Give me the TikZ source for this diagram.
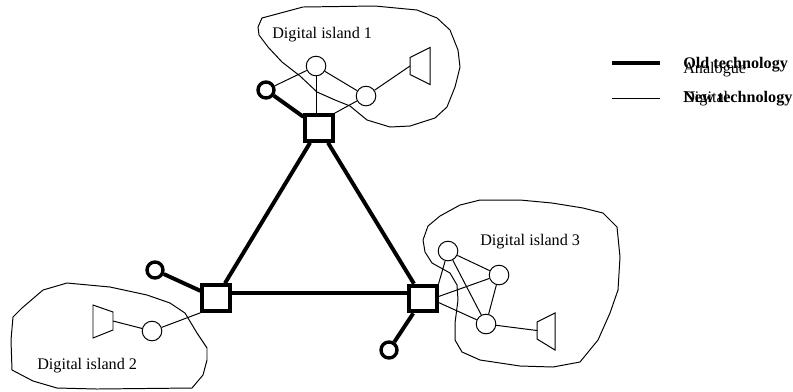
\documentclass[tikz,border=0pt]{standalone}
\usepackage{fontspec}
\setmainfont{Liberation Serif}
\usepackage{tikz}

\tikzset{
  router/.style={draw, line width=2.8pt, minimum width=0.68cm, minimum height=0.64cm, inner sep=0pt},
  phone/.style={draw, circle, line width=2.4pt, minimum size=0.4cm, inner sep=0pt},
  station/.style={draw, circle, line width=0.7pt, minimum size=0.49cm, inner sep=0pt},
  trunk/.style={line width=2.8pt},
  link/.style={line width=0.7pt},
  island/.style={line width=0.7pt, line join=round},
  islandtext/.style={anchor=base west, inner sep=0pt, font=\fontsize{11.5}{13}\selectfont}
}

\begin{document}
\begin{tikzpicture}[x=0.025cm, y=-0.025cm]
    \useasboundingbox (0,0) rectangle (793,391);
    % outlines of the three islands
    \draw[island] (262,18) -- (303,7) -- (375,6) -- (417,10) -- (437,18) -- (450,30) -- (458,50)
      -- (460,67) -- (455,87) -- (447,107) -- (435,118) -- (410,126) -- (390,127) -- (367,120)
      -- (350,106) -- (335,100) -- (317,92) -- (300,76) -- (282,62) -- (268,47) -- (259,35)
      -- (258,27) -- cycle;
    \draw[island] (43,290) -- (67,283) -- (110,287) -- (147,295) -- (170,303) -- (185,313)
      -- (197,333) -- (207,348) -- (207,360) -- (203,375) -- (192,388) -- (97,389) -- (57,388)
      -- (33,381) -- (12,370) -- (11,340) -- (13,317) -- (22,308) -- cycle;
    \draw[island] (423,240) -- (428,226) -- (440,216) -- (460,205) -- (480,200) -- (520,200)
      -- (552,203) -- (583,208) -- (603,213) -- (617,227) -- (620,257) -- (618,290) -- (610,313)
      -- (598,340) -- (580,362) -- (553,367) -- (520,366) -- (480,360) -- (462,352) -- (455,340)
      -- (455,323) -- (458,300) -- (457,285) -- (450,273) -- (432,263) -- (425,252) -- cycle;
    \node[islandtext] (name1) at (272,38) {Digital island 1};
    \node[islandtext] (name2) at (37,369) {Digital island 2};
    \node[islandtext] (name3) at (480,245) {Digital island 3};
    % exchanges and old phones
    \node[router] (r1) at (319,128) {};
    \node[router] (r2) at (216,298) {};
    \node[router] (r3) at (423,298.5) {};
    \node[phone] (p1) at (266,90) {};
    \node[phone] (p2) at (155,270) {};
    \node[phone] (p3) at (389,350) {};
    % digital stations
    \node[station] (s1a) at (316,66) {};
    \node[station] (s1b) at (366,96) {};
    \node[station] (s2) at (152,331) {};
    \node[station] (s3a) at (448,251) {};
    \node[station] (s3b) at (499,275) {};
    \node[station] (s3c) at (486,324) {};
    % speakers
    \coordinate (k1) at (410,66);
    \coordinate (k2) at (113,321);
    \coordinate (k3) at (537,330.5);
    \draw[link] (k1) ++(0,-8.5) -- ++(20,-10) -- ++(0,37) -- ++(-20,-10) -- cycle;
    \draw[link] (k2) ++(0,-9) -- ++(-20,-7) -- ++(0,33) -- ++(20,-8) -- cycle;
    \draw[link] (k3) ++(0,-8.5) -- ++(18,-9) -- ++(0,37) -- ++(-18,-11) -- cycle;
    % old network
    \draw[trunk] (r1) -- (r2);
    \draw[trunk] (r1) -- (r3);
    \draw[trunk] ([yshift=0.12cm]r2.east) -- ([yshift=0.12cm]r2.east -| r3.west);
    \draw[trunk] (p1) -- (r1);
    \draw[trunk] (p2) -- (r2);
    \draw[trunk] (p3) -- (r3);
    % island 1
    \draw[link] (p1) -- (s1a);
    \draw[link] (s1a) -- (s1a |- r1.north);
    \draw[link] (s1a) -- (s1b) -- (k1);
    \draw[link] (s1b) -- (r1.north east);
    % island 2
    \draw[link] (k2) -- (s2) -- (r2.south west);
    % island 3
    \draw[link] (r3.north east) -- (s3a);
    \draw[link] ([yshift=0.05cm]r3.east) -- (s3b);
    \draw[link] ([yshift=-0.1cm]r3.east) -- (s3c);
    \draw[link] (s3a) -- (s3b) -- (s3c) -- (s3a);
    \draw[link] (s3c) -- (k3);
    % legend
    \coordinate (oldL) at (612,63);
    \coordinate (oldR) at (660,63);
    \coordinate (newL) at (612,98);
    \coordinate (newR) at (660,98);
    \draw[line width=3.2pt] (oldL) -- (oldR);
    \draw[link] (newL) -- (newR);
    \node[islandtext] (old) at (683,68) {\textbf{Old technology}};
    \node[islandtext] (ana) at (683,73) {Analogue};
    \node[islandtext] (new) at (683,102) {\textbf{New technology}};
    \node[islandtext] (dig) at (683,102) {Digital};
\end{tikzpicture}
\end{document}
